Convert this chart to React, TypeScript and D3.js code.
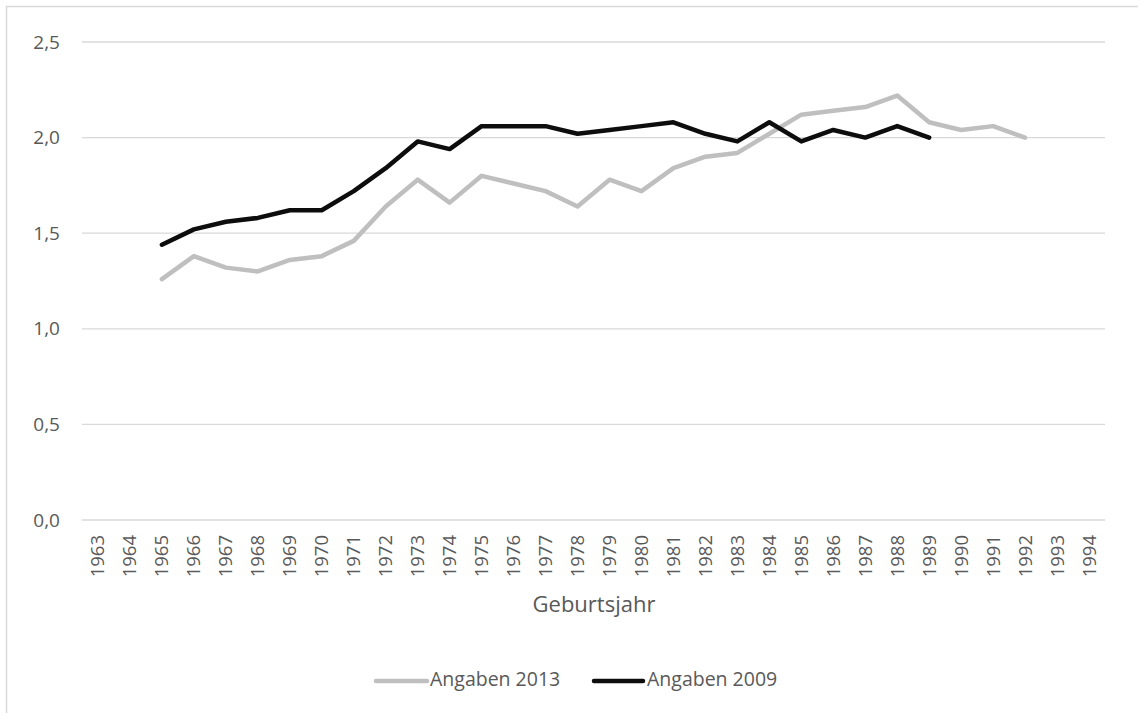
import React from "react";
import * as d3 from "d3";

const years: number[] = d3.range(1963, 1995);
const series2013Years = [1965,1966,1967,1968,1969,1970,1971,1972,1973,1974,1975,1976,1977,1978,1979,1980,1981,1982,1983,1984,1985,1986,1987,1988,1989,1990,1991,1992];
const series2013 = [1.26,1.38,1.32,1.30,1.36,1.38,1.46,1.64,1.78,1.66,1.80,1.76,1.72,1.64,1.78,1.72,1.84,1.90,1.92,2.02,2.12,2.14,2.16,2.22,2.08,2.04,2.06,2.00];
const series2009Years = [1965,1966,1967,1968,1969,1970,1971,1972,1973,1974,1975,1976,1977,1978,1979,1980,1981,1982,1983,1984,1985,1986,1987,1988,1989];
const series2009 = [1.44,1.52,1.56,1.58,1.62,1.62,1.72,1.84,1.98,1.94,2.06,2.06,2.06,2.02,2.04,2.06,2.08,2.02,1.98,2.08,1.98,2.04,2.00,2.06,2.00];
const yTicks = [0, 0.5, 1.0, 1.5, 2.0, 2.5];
const seriesNames = ["Angaben 2013", "Angaben 2009"];
const seriesColors = ["#bfbfbf", "#0d0d0d"];

const W = 1138, H = 713;
const FONT = "'Open Sans', 'Liberation Sans', sans-serif";

export default function App() {
  const left = 82, right = 1105, top = 42, bottom = 520;
  const x = d3.scaleBand<number>().domain(years).range([left, right]);
  const y = d3.scaleLinear().domain([0, 2.5]).range([bottom, top]);
  const cx = (yr: number) => (x(yr) as number) + x.bandwidth() / 2;
  const line = d3.line<[number, number]>().x(d => cx(d[0])).y(d => y(d[1]));
  const d2013 = line(series2013Years.map((yr, i) => [yr, series2013[i]]));
  const d2009 = line(series2009Years.map((yr, i) => [yr, series2009[i]]));
  const fmt = (v: number) => v.toFixed(1).replace(".", ",");

  return (
    <svg width={W} height={H} style={{ position: "absolute", left: 0, top: 0 }} fontFamily={FONT}>
      <rect x={0} y={0} width={W} height={H} fill="#fff" />
      <line x1={6} x2={W} y1={6.5} y2={6.5} stroke="#d9d9d9" strokeWidth={1.5} />
      <line x1={6.5} x2={6.5} y1={6} y2={H} stroke="#d9d9d9" strokeWidth={1.5} />
      {yTicks.map(t => (
        <g key={t}>
          <line x1={left} x2={right} y1={y(t)} y2={y(t)} stroke="#d9d9d9" strokeWidth={1.3} />
          <text x={60} y={y(t)} dy="0.35em" textAnchor="end" fontSize={19} fill="#595959">{fmt(t)}</text>
        </g>
      ))}
      {years.map(yr => (
        <text key={yr} transform={`translate(${cx(yr)},535) rotate(-90)`} textAnchor="end" dy="0.35em" fontSize={18.5} fill="#595959">{yr}</text>
      ))}
      <text x={594} y={612} textAnchor="middle" fontSize={22} fill="#595959">Geburtsjahr</text>
      <path d={d2013 || ""} fill="none" stroke={seriesColors[0]} strokeWidth={4.5} strokeLinejoin="round" strokeLinecap="round" />
      <path d={d2009 || ""} fill="none" stroke={seriesColors[1]} strokeWidth={4.5} strokeLinejoin="round" strokeLinecap="round" />
      <g>
        <line x1={376} x2={427} y1={681} y2={681} stroke={seriesColors[0]} strokeWidth={4.5} strokeLinecap="round" />
        <text x={430} y={686} fontSize={19.5} fill="#595959">{seriesNames[0]}</text>
        <line x1={594} x2={643} y1={681} y2={681} stroke={seriesColors[1]} strokeWidth={4.5} strokeLinecap="round" />
        <text x={647} y={686} fontSize={19.5} fill="#595959">{seriesNames[1]}</text>
      </g>
    </svg>
  );
}
